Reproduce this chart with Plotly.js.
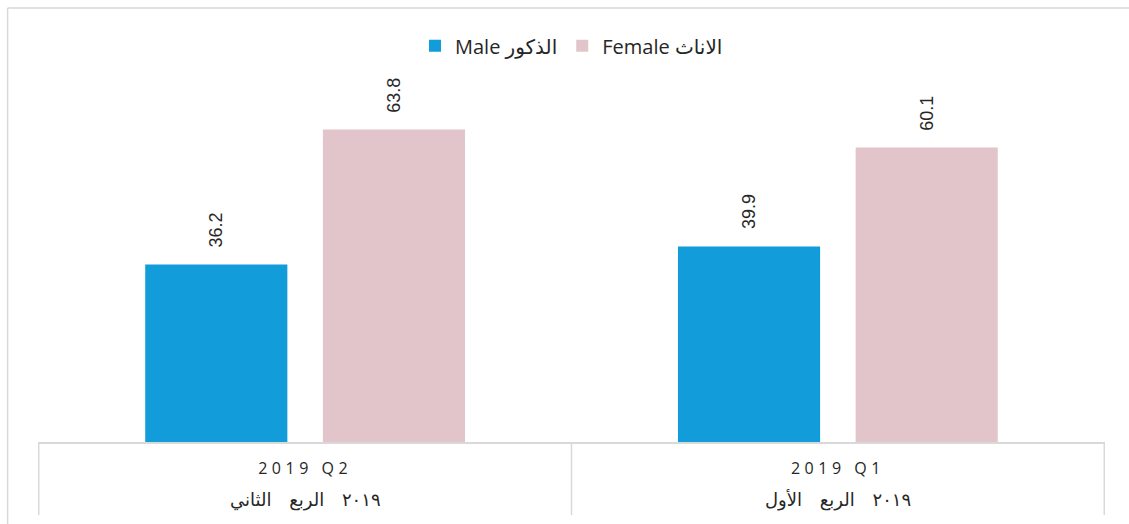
<!DOCTYPE html>
<html>
<head>
<meta charset="utf-8">
<script src="https://cdn.plot.ly/plotly-3.0.1.min.js"></script>
<style>
  html, body { margin: 0; padding: 0; background: #fff; }
  #chart { width: 1129px; height: 524px; }
  .xtick text { letter-spacing: 4.5px; }
  .annotation-text { word-spacing: 12px; }
</style>
</head>
<body>
<div id="chart"></div>
<script>
// Categories (left to right, as in the reference)
const categories = ['2019 Q2', '2019 Q1'];
const arabicLabels = ['٢٠١٩ الربع الثاني', '٢٠١٩ الربع الأول'];

// Series
const maleName = 'Male الذكور';
const femaleName = 'Female الاناث';
const maleValues = [36.2, 39.9];
const femaleValues = [63.8, 60.1];

const FONT = 'Open Sans, DejaVu Sans, sans-serif';
const LABEL_FONT = 'Liberation Sans, Arial, sans-serif';
const gridGrey = '#d9d9d9';
const BARGAP = 0.333;
const BARGROUPGAP = 0.2;

const series = [
  { name: maleName, values: maleValues, color: '#129dda' },
  { name: femaleName, values: femaleValues, color: '#e2c5ca' }
];
const traces = series.map(function (s) {
  return { type: 'bar', name: s.name, x: categories, y: s.values, marker: { color: s.color }, hoverinfo: 'skip' };
});

// Frame / divider shapes
const shapes = [];
[-0.5, 0.5, 1.5].forEach(function (xv) {
  shapes.push({ type: 'line', xref: 'x', yref: 'paper', x0: xv, x1: xv, y0: 0, y1: -0.213,
    line: { color: gridGrey, width: 1.5 } });
});
// outer chart border (left and top edges)
shapes.push({ type: 'line', xref: 'paper', yref: 'paper', x0: -0.0285, x1: -0.0285, y0: -0.3, y1: 1.2655,
  line: { color: gridGrey, width: 1.5 } });
shapes.push({ type: 'line', xref: 'paper', yref: 'paper', x0: -0.0285, x1: 1.1, y0: 1.2655, y1: 1.2655,
  line: { color: gridGrey, width: 1.5 } });

// Second-line (Arabic) category labels
const annotations = arabicLabels.map(function (t, i) {
  return { xref: 'x', yref: 'paper', x: i, y: -0.169, text: t, showarrow: false,
    xanchor: 'center', yanchor: 'middle',
    font: { family: 'DejaVu Sans, Noto Sans, sans-serif', size: 18, color: '#262626' } };
});

// Rotated value labels over each grouped bar (bar-group geometry from the layout gaps)
const nSeries = series.length;
const slot = (1 - BARGAP) / nSeries;
series.forEach(function (s, k) {
  const off = -(1 - BARGAP) / 2 + slot * (k + 0.5);
  s.values.forEach(function (v, i) {
    annotations.push({
      xref: 'x', yref: 'y', x: i + off, y: v, text: v.toFixed(1), showarrow: false,
      textangle: -90, xanchor: 'center', yanchor: 'bottom', yshift: 15,
      font: { family: LABEL_FONT, size: 18, color: '#262626' }
    });
  });
});

const layout = {
  width: 1129, height: 524,
  margin: { l: 38, r: 24, t: 99, b: 82, pad: 0 },
  paper_bgcolor: '#ffffff', plot_bgcolor: '#ffffff',
  barmode: 'group', bargap: BARGAP, bargroupgap: BARGROUPGAP,
  showlegend: true,
  legend: { orientation: 'h', x: 0.5, xanchor: 'center', y: 1.155, yanchor: 'middle',
    font: { family: FONT, size: 20, color: '#262626' }, traceorder: 'normal' },
  xaxis: {
    type: 'category', categoryorder: 'array', categoryarray: categories,
    showline: true, linecolor: gridGrey, linewidth: 1.5,
    ticks: '', showgrid: false, zeroline: false,
    tickfont: { family: FONT, size: 16, color: '#262626' },
    ticklabelstandoff: 11, fixedrange: true
  },
  yaxis: { range: [0, 70], visible: false, showgrid: false, zeroline: false, fixedrange: true },
  shapes: shapes,
  annotations: annotations
};

Plotly.newPlot('chart', traces, layout, { staticPlot: true, displayModeBar: false });
</script>
</body>
</html>
